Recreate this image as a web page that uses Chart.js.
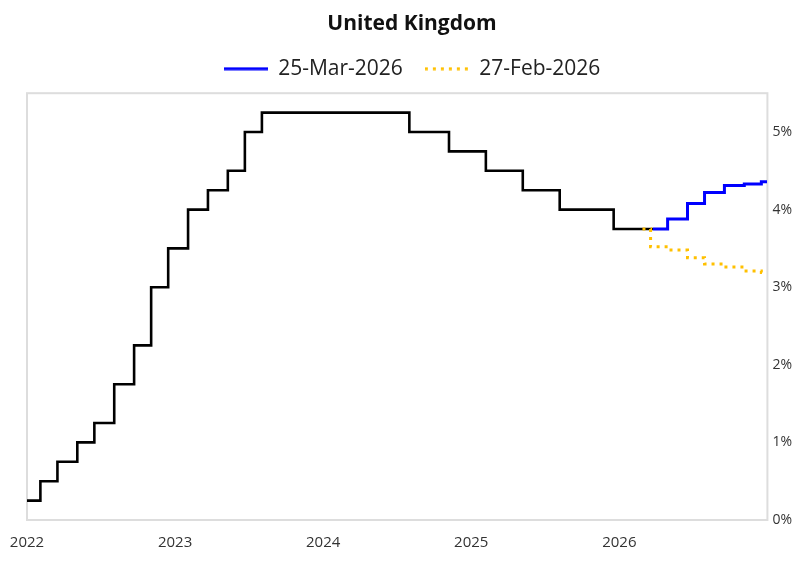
<!DOCTYPE html>
<html>
<head>
<meta charset="utf-8">
<script src="https://cdn.jsdelivr.net/npm/chart.js@4"></script>
<style>
  html, body { margin: 0; padding: 0; background: #fff; }
  #wrap { width: 797px; height: 566px; }
</style>
</head>
<body>
<div id="wrap"><canvas id="ukChart"></canvas></div>
<script>
// Bank Rate history (step dates and level after each step)
const histDates = ['2022-01-01', '2022-02-03', '2022-03-17', '2022-05-05', '2022-06-16', '2022-08-04',
  '2022-09-22', '2022-11-03', '2022-12-15', '2023-02-02', '2023-03-23', '2023-05-11', '2023-06-22',
  '2023-08-03', '2024-08-01', '2024-11-07', '2025-02-06', '2025-05-08', '2025-08-07', '2025-12-18', '2026-03-25'];
const histRates = [0.25, 0.5, 0.75, 1.0, 1.25, 1.75, 2.25, 3.0, 3.5, 4.0, 4.25, 4.5, 5.0,
  5.25, 5.0, 4.75, 4.5, 4.25, 4.0, 3.75, 3.75];

// market implied path, 25-Mar-2026
const marDates = ['2026-03-25', '2026-04-30', '2026-06-18', '2026-07-30', '2026-09-17', '2026-11-05', '2026-12-17', '2026-12-31'];
const marRates = [3.75, 3.88, 4.08, 4.22, 4.31, 4.33, 4.36, 4.36];

// market implied path, 27-Feb-2026
const febDates = ['2026-02-27', '2026-03-19', '2026-04-30', '2026-06-18', '2026-07-30', '2026-09-17', '2026-11-05', '2026-12-17', '2026-12-31'];
const febRates = [3.75, 3.52, 3.48, 3.38, 3.30, 3.26, 3.21, 3.19, 3.19];

const yearTicks = [2022, 2023, 2024, 2025, 2026];

function toYear(s) {
  const d = new Date(s + 'T00:00:00Z');
  const y = d.getUTCFullYear();
  const start = Date.UTC(y, 0, 1);
  const end = Date.UTC(y + 1, 0, 1);
  return y + (d.getTime() - start) / (end - start);
}

function points(dates, rates) {
  return dates.map((d, i) => ({ x: toYear(d), y: rates[i] }));
}

// small line swatch for the legend (keeps the dotted look)
function swatch(color, dash) {
  const c = document.createElement('canvas');
  c.width = 44;
  c.height = 4;
  const g = c.getContext('2d');
  g.strokeStyle = color;
  g.lineWidth = 3;
  g.setLineDash(dash);
  g.beginPath();
  g.moveTo(0, 2);
  g.lineTo(44, 2);
  g.stroke();
  return c;
}

// light grey frame round the plot area
const frame = {
  id: 'frame',
  beforeDatasetsDraw(chart) {
    const a = chart.chartArea;
    const ctx = chart.ctx;
    ctx.save();
    ctx.strokeStyle = '#dddddd';
    ctx.lineWidth = 2;
    ctx.strokeRect(a.left, a.top, a.right - a.left, a.bottom - a.top);
    ctx.restore();
  }
};

// a bit more room under the legend
const legendGap = {
  id: 'legendGap',
  beforeInit(chart) {
    const fit = chart.legend.fit;
    chart.legend.fit = function () {
      fit.bind(chart.legend)();
      this.height += 4;
    };
  }
};

const fontFam = '"Open Sans", "Noto Sans", sans-serif';

new Chart(document.getElementById('ukChart'), {
  type: 'line',
  data: {
    datasets: [
      {
        label: '25-Mar-2026',
        data: points(marDates, marRates),
        borderColor: '#0000ff',
        backgroundColor: '#0000ff',
        borderWidth: 3,
        stepped: 'before',
        pointRadius: 0,
        pointStyle: swatch('#0000ff', []),
        order: 1
      },
      {
        label: '27-Feb-2026',
        data: points(febDates, febRates),
        borderColor: '#ffc000',
        backgroundColor: '#ffc000',
        borderWidth: 3,
        borderDash: [3, 5],
        stepped: 'before',
        pointRadius: 0,
        pointStyle: swatch('#ffc000', [3, 5]),
        order: 0
      },
      {
        label: 'history',
        data: points(histDates, histRates),
        borderColor: '#000000',
        borderWidth: 2.6,
        stepped: 'before',
        pointRadius: 0,
        order: 2
      }
    ]
  },
  options: {
    responsive: true,
    maintainAspectRatio: false,
    animation: false,
    layout: { padding: { left: 27, right: 0, top: 0, bottom: 8 } },
    plugins: {
      title: {
        display: true,
        text: 'United Kingdom',
        color: '#111',
        font: { family: fontFam, size: 21, weight: 'bold' },
        padding: { top: 11, bottom: 0 }
      },
      legend: {
        labels: {
          filter: item => item.text !== 'history',
          sort: (a, b) => a.datasetIndex - b.datasetIndex,
          usePointStyle: true,
          pointStyleWidth: 44,
          color: '#222',
          font: { family: fontFam, size: 21 },
          padding: 22
        }
      },
      tooltip: { enabled: false }
    },
    scales: {
      x: {
        type: 'linear',
        min: 2022,
        max: 2027,
        grid: { display: false },
        border: { display: false },
        afterBuildTicks: axis => { axis.ticks = yearTicks.map(v => ({ value: v })); },
        ticks: {
          color: '#333',
          font: { family: fontFam, size: 15 },
          maxRotation: 0,
          padding: 6,
          callback: v => String(v)
        }
      },
      y: {
        position: 'right',
        min: 0,
        max: 5.5,
        grid: { display: false, drawTicks: false },
        border: { display: false },
        ticks: {
          stepSize: 1,
          color: '#333',
          font: { family: fontFam, size: 14 },
          padding: 5,
          callback: v => (Number.isInteger(v) ? v + '%' : null)
        }
      }
    }
  },
  plugins: [frame, legendGap]
});
</script>
</body>
</html>
